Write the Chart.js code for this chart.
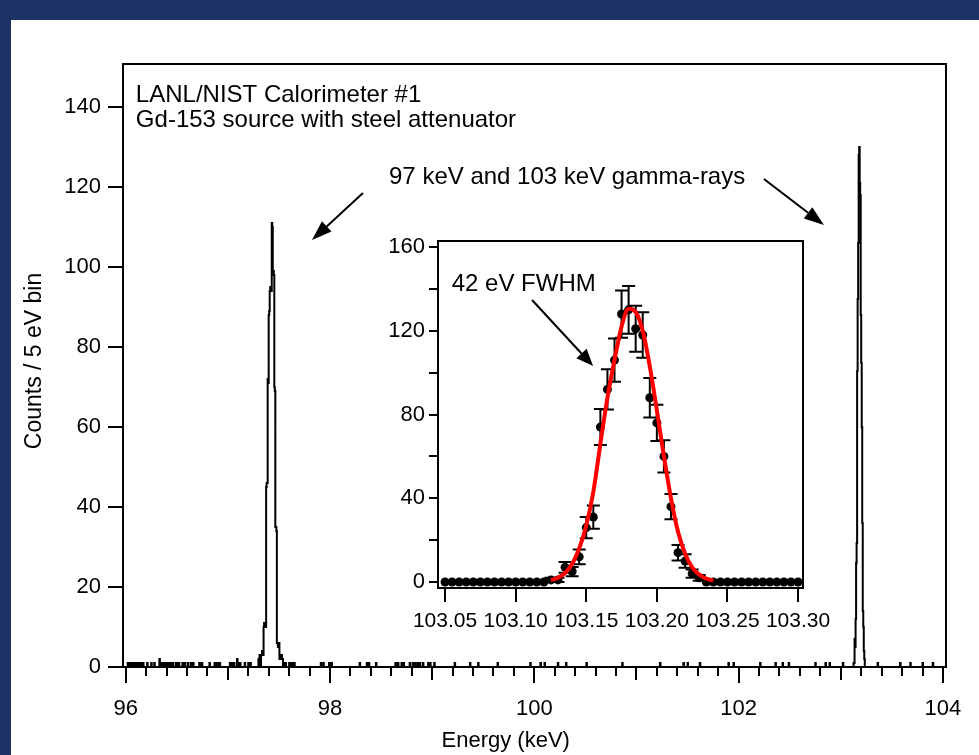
<!DOCTYPE html>
<html>
<head>
<meta charset="utf-8">
<script src="https://cdn.jsdelivr.net/npm/chart.js@4.4.1/dist/chart.umd.min.js"></script>
<style>
  body { margin: 0; width: 979px; height: 755px; overflow: hidden; position: relative; background: #1c3264; }
  #panel { position: absolute; left: 11px; top: 20px; width: 968px; height: 735px; background: #fff; }
  #main { position: absolute; left: 0; top: 0; }
  #inset { position: absolute; left: 360px; top: 220px; }
</style>
</head>
<body>
<div id="panel"></div>
<canvas id="main" width="979" height="755"></canvas>
<canvas id="inset" width="490" height="430"></canvas>
<script>
const FONT = "'Liberation Sans', Arial, Helvetica, sans-serif";
const BIN_KEV = 0.005;

// scattered background counts in the full spectrum (bin energy keV / counts)
const bgEnergy = [96.02, 96.035, 96.045, 96.06, 96.075, 96.09, 96.10, 96.12, 96.135, 96.15, 96.17, 96.21,
  96.25, 96.28, 96.33, 96.345, 96.36, 96.38, 96.40, 96.42, 96.44, 96.46, 96.49, 96.505, 96.52, 96.555,
  96.58, 96.61, 96.64, 96.66, 96.72, 96.745, 96.82, 96.87, 96.885, 96.90, 96.92, 97.02, 97.04, 97.06,
  97.09, 97.10, 97.12, 97.165, 97.20, 97.22, 97.30, 97.31,
  97.55, 97.565, 97.60, 97.62, 97.635, 97.65, 97.91, 97.935, 97.99, 98.015, 98.29, 98.36, 98.38, 98.45,
  98.64, 98.665, 98.70, 98.72, 98.78, 98.81, 98.835, 98.86, 98.88, 98.91, 98.96, 98.98, 99.02, 99.22,
  99.37, 99.45, 99.64, 99.96, 100.06, 100.10, 100.23, 100.31, 100.51, 100.86, 101.23, 101.46, 101.50,
  101.62, 101.90, 101.95, 102.21, 102.36, 102.43, 102.49, 102.75, 102.85, 102.89, 103.02,
  103.36, 103.58, 103.68, 103.80, 103.90];
const bgCounts = [1, 1, 1, 1, 1, 1, 1, 1, 1, 1, 1, 1,
  1, 1, 2, 1, 1, 1, 1, 1, 1, 1, 1, 1, 1, 1,
  1, 1, 1, 1, 1, 1, 1, 1, 1, 1, 1, 1, 1, 1,
  2, 1, 1, 1, 1, 1, 2, 3,
  1, 1, 1, 1, 1, 1, 1, 1, 1, 1, 1, 1, 1, 1,
  1, 1, 1, 1, 1, 1, 1, 1, 1, 1, 1, 1, 1, 1,
  1, 1, 1, 1, 1, 1, 1, 1, 1, 1, 1, 1, 1,
  1, 1, 1, 1, 1, 1, 1, 1, 1, 1, 1,
  1, 1, 1, 1, 1];

// 97 keV line, 5 eV bins starting at peak97Start
const peak97Start = 97.325;
const peak97Counts = [3, 3, 4, 3, 3, 10, 11, 10, 11, 10, 45, 46, 46, 72, 71, 88, 89, 94, 95, 95, 94,
  111, 110, 99, 99, 98, 70, 69, 35, 35, 34, 6, 6, 5, 6, 6, 2, 3, 2, 2, 3, 2, 2];

// 103 keV line (inset), 5 eV bins starting at insetStart
const insetStart = 103.05;
const insetCounts = [0, 0, 0, 0, 0, 0, 0, 0, 0, 0, 0, 0, 0, 0, 0,
  1, 1, 7, 5, 12, 26, 31, 74, 92, 106, 128, 130, 121, 118, 88, 76, 60, 36, 14, 10, 4, 2,
  0, 0, 0, 0, 0, 0, 0, 0, 0, 0, 0, 0, 0, 0];
const insetErrors = [0, 0, 0, 0, 0, 0, 0, 0, 0, 0, 0, 0, 0, 0, 0,
  1, 1, 2.6, 2.2, 3.5, 5.1, 5.6, 8.6, 9.6, 10.3, 11.3, 11.4, 11, 10.9, 9.4, 8.7, 7.7, 6, 3.7, 3.2, 2, 1.4,
  0, 0, 0, 0, 0, 0, 0, 0, 0, 0, 0, 0, 0, 0];

// gaussian fit curve (red)
const fitEnergy = [103.125, 103.130, 103.135, 103.140, 103.145, 103.150, 103.155, 103.160, 103.165,
  103.170, 103.175, 103.180, 103.185, 103.190, 103.195, 103.200, 103.205, 103.210, 103.215, 103.220,
  103.225, 103.230, 103.235, 103.240];
const fitCounts = [0.9, 2.0, 4.3, 8.6, 16, 27, 43, 66, 88, 106, 122, 130.5, 129, 120, 103, 82, 60, 40,
  24, 13.5, 7, 3.5, 1.6, 0.7];

function buildSpectrum() {
  const start = 95.975, end = 104.025;
  const n = Math.round((end - start) / BIN_KEV);
  const counts = new Array(n).fill(0);
  const put = (e, c) => {
    const k = Math.round((e - start) / BIN_KEV);
    if (k >= 0 && k < n) counts[k] += c;
  };
  bgEnergy.forEach((e, i) => put(e, bgCounts[i]));
  peak97Counts.forEach((c, i) => put(peak97Start + i * BIN_KEV, c));
  insetCounts.forEach((c, i) => put(insetStart + i * BIN_KEV, c));
  const pts = counts.map((c, k) => ({ x: start + k * BIN_KEV, y: c }));
  pts.push({ x: end, y: counts[n - 1] });
  return pts;
}

// keep the plot box exactly where the layout padding says
function fixWidth(w) {
  return s => { s.width = w; s.paddingTop = s.paddingBottom = s.paddingLeft = s.paddingRight = 0; };
}
function fixHeight(h) {
  return s => { s.height = h; s.paddingTop = s.paddingBottom = s.paddingLeft = s.paddingRight = 0; };
}

// frame + hand drawn ticks (several lengths, like the original plot)
const igorFrame = {
  id: 'igorFrame',
  afterDraw(chart, args, opts) {
    const { ctx, chartArea: a } = chart;
    const sx = chart.scales.x, sy = chart.scales.y;
    ctx.save();
    ctx.strokeStyle = '#000';
    ctx.lineWidth = 2;
    opts.xTicks.forEach(t => {
      for (let k = Math.ceil(sx.min / t.step - 1e-6); k * t.step <= sx.max + 1e-9; k++) {
        const px = Math.round(sx.getPixelForValue(k * t.step));
        ctx.beginPath(); ctx.moveTo(px, a.bottom); ctx.lineTo(px, a.bottom + t.len); ctx.stroke();
      }
    });
    opts.yTicks.forEach(t => {
      for (let k = Math.ceil(sy.min / t.step - 1e-6); k * t.step <= sy.max + 1e-9; k++) {
        const py = Math.round(sy.getPixelForValue(k * t.step));
        ctx.beginPath(); ctx.moveTo(a.left - t.len, py); ctx.lineTo(a.left, py); ctx.stroke();
      }
    });
    ctx.strokeRect(a.left, a.top, a.right - a.left, a.bottom - a.top);
    ctx.restore();
  }
};

function arrow(ctx, x1, y1, x2, y2, head, half) {
  const ang = Math.atan2(y2 - y1, x2 - x1);
  const bx = x2 - head * Math.cos(ang), by = y2 - head * Math.sin(ang);
  ctx.beginPath(); ctx.moveTo(x1, y1); ctx.lineTo(bx, by); ctx.stroke();
  ctx.beginPath();
  ctx.moveTo(x2, y2);
  ctx.lineTo(bx + half * Math.sin(ang), by - half * Math.cos(ang));
  ctx.lineTo(bx - half * Math.sin(ang), by + half * Math.cos(ang));
  ctx.closePath(); ctx.fill();
}

const mainNotes = {
  id: 'mainNotes',
  afterDraw(chart) {
    const { ctx } = chart;
    const x = v => chart.scales.x.getPixelForValue(v);
    const y = v => chart.scales.y.getPixelForValue(v);
    ctx.save();
    ctx.fillStyle = '#000';
    ctx.strokeStyle = '#000';
    ctx.lineWidth = 2;
    ctx.font = '24px ' + FONT;
    ctx.textBaseline = 'alphabetic';
    ctx.fillText('LANL/NIST Calorimeter #1', x(96.10), y(141.3));
    ctx.fillText('Gd-153 source with steel attenuator', x(96.10), y(135.1));
    ctx.fillText('97 keV and 103 keV gamma-rays', x(98.578), y(120.75));
    arrow(ctx, x(98.323), y(118.5), x(97.824), y(106.75), 20, 7);
    arrow(ctx, x(102.248), y(122), x(102.835), y(110.5), 20, 7);

    // axis titles
    ctx.font = '22px ' + FONT;
    ctx.textAlign = 'center';
    ctx.textBaseline = 'middle';
    ctx.fillText('Energy (keV)', x(99.72), 741);
    ctx.translate(35, y(76.5));
    ctx.rotate(-Math.PI / 2);
    ctx.font = '23px ' + FONT;
    ctx.fillText('Counts / 5 eV bin', 0, 0);
    ctx.restore();
  }
};

const errorBars = {
  id: 'errorBars',
  beforeDatasetsDraw(chart) {
    const { ctx } = chart;
    const sx = chart.scales.x, sy = chart.scales.y;
    ctx.save();
    ctx.strokeStyle = '#000';
    ctx.lineWidth = 2;
    insetCounts.forEach((c, i) => {
      const err = insetErrors[i];
      if (!err) return;
      const px = sx.getPixelForValue(insetStart + i * BIN_KEV);
      const top = sy.getPixelForValue(c + err), bot = sy.getPixelForValue(c - err);
      ctx.beginPath();
      ctx.moveTo(px, top); ctx.lineTo(px, bot);
      ctx.moveTo(px - 6.5, top); ctx.lineTo(px + 6.5, top);
      ctx.moveTo(px - 6.5, bot); ctx.lineTo(px + 6.5, bot);
      ctx.stroke();
    });
    ctx.restore();
  }
};

const insetNotes = {
  id: 'insetNotes',
  beforeDraw(chart) {
    const { ctx, chartArea: a } = chart;
    ctx.save();
    ctx.fillStyle = '#fff';
    ctx.fillRect(a.left, a.top, a.right - a.left, a.bottom - a.top);
    ctx.restore();
  },
  afterDraw(chart) {
    const { ctx } = chart;
    const x = v => chart.scales.x.getPixelForValue(v);
    const y = v => chart.scales.y.getPixelForValue(v);
    ctx.save();
    ctx.fillStyle = '#000';
    ctx.strokeStyle = '#000';
    ctx.lineWidth = 2;
    ctx.font = '24px ' + FONT;
    ctx.fillText('42 eV FWHM', x(103.0547), y(139.1));
    arrow(ctx, x(103.1116), y(134.7), x(103.1548), y(103.2), 17, 7);
    ctx.restore();
  }
};

Chart.defaults.font.family = FONT;
Chart.defaults.color = '#000';

const noGrid = { display: false, drawTicks: false };

new Chart(document.getElementById('main'), {
  type: 'line',
  data: {
    datasets: [{
      data: buildSpectrum(),
      stepped: true,
      borderColor: '#000',
      borderWidth: 2,
      pointRadius: 0,
      fill: false
    }]
  },
  options: {
    responsive: false,
    animation: false,
    events: [],
    layout: { padding: { left: 0, right: 33, top: 64, bottom: 0 } },
    plugins: {
      legend: { display: false },
      tooltip: { enabled: false },
      igorFrame: {
        xTicks: [{ step: 0.2, len: 9 }, { step: 1, len: 13 }, { step: 2, len: 16 }],
        yTicks: [{ step: 20, len: 15 }]
      }
    },
    scales: {
      x: {
        type: 'linear',
        min: 95.974,
        max: 104.03,
        afterFit: fixHeight(88),
        grid: noGrid,
        border: { display: false },
        ticks: { stepSize: 2, includeBounds: false, autoSkip: false, maxRotation: 0, padding: 29, font: { size: 22 } }
      },
      y: {
        min: 0,
        max: 150.75,
        afterFit: fixWidth(123),
        grid: noGrid,
        border: { display: false },
        ticks: { stepSize: 20, includeBounds: false, padding: 22, font: { size: 22 } }
      }
    }
  },
  plugins: [igorFrame, mainNotes]
});

new Chart(document.getElementById('inset'), {
  type: 'line',
  data: {
    datasets: [{
      data: fitEnergy.map((e, i) => ({ x: e, y: fitCounts[i] })),
      borderColor: '#ff0000',
      borderWidth: 4,
      pointRadius: 0,
      cubicInterpolationMode: 'monotone',
      fill: false,
      order: 0
    }, {
      data: insetCounts.map((c, i) => ({ x: insetStart + i * BIN_KEV, y: c })),
      showLine: false,
      pointRadius: 4.5,
      pointBackgroundColor: '#000',
      pointBorderWidth: 0,
      order: 1
    }]
  },
  options: {
    responsive: false,
    animation: false,
    events: [],
    layout: { padding: { left: 0, right: 47, top: 21, bottom: 0 } },
    plugins: {
      legend: { display: false },
      tooltip: { enabled: false },
      igorFrame: {
        xTicks: [{ step: 0.05, len: 14 }],
        yTicks: [{ step: 20, len: 9 }]
      }
    },
    scales: {
      x: {
        type: 'linear',
        min: 103.045,
        max: 103.3035,
        afterFit: fixHeight(62),
        grid: noGrid,
        border: { display: false },
        ticks: {
          stepSize: 0.05, includeBounds: false, autoSkip: false, maxRotation: 0, padding: 21,
          font: { size: 21 }, callback: v => v.toFixed(2)
        }
      },
      y: {
        min: -2.87,
        max: 162.9,
        afterFit: fixWidth(78),
        grid: noGrid,
        border: { display: false },
        ticks: { stepSize: 40, includeBounds: false, padding: 13, font: { size: 22 } }
      }
    }
  },
  plugins: [igorFrame, errorBars, insetNotes]
});
</script>
</body>
</html>
